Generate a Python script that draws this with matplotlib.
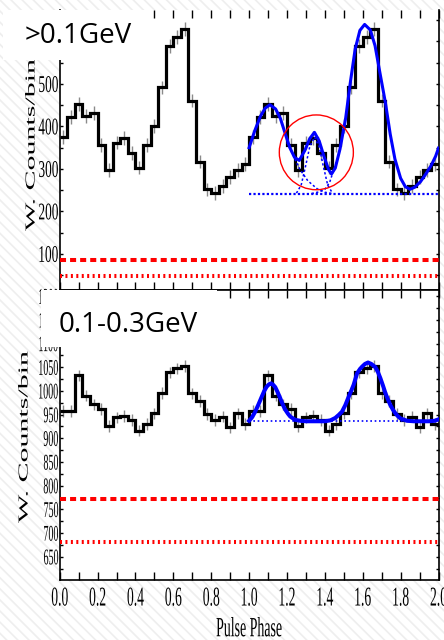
import numpy as np
import matplotlib
matplotlib.use('Agg')
import matplotlib.pyplot as plt
from matplotlib.patches import Rectangle, Ellipse
from matplotlib.patheffects import AbstractPathEffect
from matplotlib.transforms import Affine2D
from matplotlib.ticker import MultipleLocator, FormatStrFormatter

# one rotation of the light curve, 25 bins of 0.04 in phase (plotted twice)
top_cycle = [375, 422, 453, 424, 431, 356, 297, 362, 373, 337, 303, 356, 401,
             492, 589, 611, 629, 461, 317, 252, 243, 260, 281, 298, 312]
low_cycle = [958, 958, 1033, 990, 972, 962, 926, 944, 947, 939, 916, 930, 953,
             996, 1039, 1048, 1053, 995, 979, 951, 939, 946, 923, 953, 930]
top_err = 16
low_err = 12

# fitted profile (>0.1 GeV)
top_fit_x = [1.00, 1.03, 1.06, 1.085, 1.11, 1.14, 1.165, 1.19, 1.215, 1.24, 1.265,
             1.295, 1.32, 1.345, 1.37, 1.395, 1.42, 1.435, 1.455, 1.48, 1.51, 1.535,
             1.56, 1.585, 1.61, 1.64, 1.665, 1.69, 1.72, 1.745, 1.77, 1.80, 1.825,
             1.85, 1.875, 1.905, 1.93, 1.96, 1.985, 2.00]
top_fit_y = [350, 390, 424, 443, 451, 441, 419, 384, 350, 327, 320,
             344, 371, 386, 366, 330, 298, 288, 302, 347, 420, 505,
             582, 626, 640, 627, 590, 528, 455, 382, 323, 278, 258,
             252, 257, 270, 286, 307, 330, 349]
# single components inside the circle
g1_x = [1.20, 1.22, 1.25, 1.27, 1.31, 1.36, 1.40, 1.44]
g1_y = [362, 345, 315, 298, 272, 253, 245, 242]
g2_x = [1.25, 1.275, 1.30, 1.32, 1.345, 1.37, 1.39, 1.415, 1.44]
g2_y = [243, 262, 310, 352, 375, 352, 310, 262, 243]
g3_x = [1.33, 1.37, 1.40, 1.425, 1.445, 1.47]
g3_y = [242, 246, 252, 268, 295, 328]
top_base = 241

# fitted profile (0.1-0.3 GeV)
low_fit_x = [1.00, 1.015, 1.032, 1.05, 1.067, 1.08, 1.093, 1.105, 1.116, 1.127,
             1.138, 1.15, 1.164, 1.177, 1.19, 1.205, 1.217, 1.243, 1.27, 1.30,
             1.40, 1.43, 1.455, 1.475, 1.49, 1.508, 1.526, 1.54, 1.552, 1.57,
             1.585, 1.596, 1.612, 1.628, 1.645, 1.667, 1.68, 1.693, 1.707, 1.72,
             1.733, 1.746, 1.76, 1.772, 1.785, 1.799, 1.834, 1.87, 1.95, 1.98, 2.00]
low_fit_y = [937, 944, 956, 972, 988, 1000, 1009, 1014, 1016, 1013,
             1008, 998, 985, 972, 961, 952, 946, 939, 937, 936,
             936, 938, 943, 950, 956, 970, 988, 1001, 1013, 1037,
             1046, 1051, 1057, 1060, 1057, 1050, 1040, 1027, 1011, 995,
             982, 970, 960, 953, 947, 942, 937, 936, 936, 937, 940]
low_base = 936

# background levels (red lines)
top_bkg = [86, 48]
low_bkg = [772, 682]

top_yticks = [100, 200, 300, 400, 500]


class Tall(AbstractPathEffect):
    # the original figure was stretched vertically -> draw text taller
    def __init__(self, sy):
        super().__init__()
        self.sy = sy

    def draw_path(self, renderer, gc, tpath, affine, rgbFace=None):
        bb = tpath.get_extents(affine)
        cy = 0.5 * (bb.y0 + bb.y1)
        aff = affine + Affine2D().translate(0, -cy).scale(1, self.sy).translate(0, cy)
        renderer.draw_path(gc, tpath, aff, rgbFace)


plt.rcParams['font.family'] = 'serif'
plt.rcParams['font.serif'] = ['Liberation Serif', 'DejaVu Serif']
plt.rcParams['hatch.color'] = '#eeeeee'
plt.rcParams['hatch.linewidth'] = 1.2

W, H = 444., 640.
fig = plt.figure(figsize=(4.44, 6.4), dpi=100)

# slide background
fig.patches.append(Rectangle((0, 0), 1, 1, transform=fig.transFigure, facecolor='white',
                             edgecolor='#eeeeee', hatch='\\\\\\', lw=0, zorder=-5))

x0, x1 = 59.7, 438.5
ax1 = fig.add_axes([x0 / W, 1 - 290 / H, (x1 - x0) / W, 280 / H])
ax2 = fig.add_axes([x0 / W, 60 / H, (x1 - x0) / W, 290 / H])

edges = np.linspace(0, 2, 51)
centers = edges[:-1] + 0.02
top_counts = np.tile(top_cycle, 2)
low_counts = np.tile(low_cycle, 2)

# ---- top panel: >0.1 GeV
ax1.vlines(centers, top_counts - top_err, top_counts + top_err, colors='#8a8a8a', lw=1.0, zorder=1)
ax1.stairs(top_counts, edges, color='k', lw=2.3, baseline=None, zorder=2)
ax1.plot(top_fit_x, top_fit_y, color='blue', lw=2.2, zorder=4)
ax1.plot([1.0, 2.0], [top_base, top_base], color='blue', lw=1.6, dashes=(1, 1), zorder=3)
for gx, gy in [(g1_x, g1_y), (g2_x, g2_y), (g3_x, g3_y)]:
    ax1.plot(gx, gy, color='blue', lw=1.1, dashes=(1.5, 1.5), zorder=3)
ax1.add_patch(Ellipse((1.355, 339), 0.391, 176, fill=False, ec='red', lw=1.0, zorder=5))
ax1.axhline(top_bkg[0], color='red', lw=2.9, dashes=(1.5, 1.0), zorder=3)
ax1.axhline(top_bkg[1], color='red', lw=2.9, dashes=(0.5, 0.85), zorder=3)

ax1.set_xlim(0, 2)
ax1.set_ylim(15, 674)
ax1.xaxis.set_major_locator(MultipleLocator(0.2))
ax1.xaxis.set_minor_locator(MultipleLocator(0.1))
ax1.set_yticks(top_yticks)
ax1.yaxis.set_minor_locator(MultipleLocator(50))
ax1.tick_params(axis='x', which='both', direction='in', top=True, bottom=True,
                labelbottom=False, length=6, width=1.0)
ax1.tick_params(axis='y', which='both', direction='in', left=True, right=True,
                length=2.5, width=1.0, labelsize=9.6, pad=1)
ax1.spines['top'].set_visible(False)
for s in ['left', 'right', 'bottom']:
    ax1.spines[s].set_linewidth(1.2)
ax1.set_ylabel('W. Counts/bin', fontsize=9.8, va='center', ha='center')
ax1.yaxis.set_label_coords((31 - x0) / (x1 - x0), (290 - 145) / 280.)

# ---- bottom panel: 0.1-0.3 GeV
ax2.vlines(centers, low_counts - low_err, low_counts + low_err, colors='#8a8a8a', lw=1.0, zorder=1)
ax2.stairs(low_counts, edges, color='k', lw=2.3, baseline=None, zorder=2)
ax2.plot(low_fit_x, low_fit_y, color='blue', lw=2.9, zorder=4)
ax2.plot([1.0, 2.0], [low_base, low_base], color='blue', lw=1.2, dashes=(1, 1.6), zorder=3)
ax2.axhline(low_bkg[0], color='red', lw=2.9, dashes=(1.5, 1.0), zorder=3)
ax2.axhline(low_bkg[1], color='red', lw=2.9, dashes=(0.5, 0.85), zorder=3)

ax2.set_xlim(0, 2)
ax2.set_ylim(601, 1213)
ax2.xaxis.set_major_locator(MultipleLocator(0.2))
ax2.xaxis.set_minor_locator(MultipleLocator(0.1))
ax2.xaxis.set_major_formatter(FormatStrFormatter('%.1f'))
ax2.yaxis.set_major_locator(MultipleLocator(50))
ax2.yaxis.set_minor_locator(MultipleLocator(25))
ax2.tick_params(axis='x', which='both', direction='in', top=True, bottom=True,
                length=6, width=1.0, labelsize=9.8, pad=8)
ax2.tick_params(axis='y', which='both', direction='in', left=True, right=True,
                length=2.5, width=1.0, labelsize=7.2, pad=1)
for s in ax2.spines.values():
    s.set_linewidth(1.2)
ax2.set_ylabel('W. Counts/bin', fontsize=9.8, va='center', ha='center')
ax2.yaxis.set_label_coords((24 - x0) / (x1 - x0), (580 - 437) / 290.)
ax2.set_xlabel('Pulse Phase', fontsize=10, va='center')
ax2.xaxis.set_label_coords(0.5, (580 - 628) / 290.)

# tall serif text like the stretched original
for t in ax1.yaxis.get_major_ticks():
    t.label1.set_path_effects([Tall(1.8)])
for t in ax2.yaxis.get_major_ticks():
    t.label1.set_path_effects([Tall(2.25)])
for t in ax2.xaxis.get_major_ticks():
    t.label1.set_path_effects([Tall(2.0)])
ax1.yaxis.label.set_path_effects([Tall(2.2)])
ax2.yaxis.label.set_path_effects([Tall(2.2)])
ax2.xaxis.label.set_path_effects([Tall(2.0)])

# energy band labels on white boxes
fig.patches.append(Rectangle((3 / W, 1 - 60 / H), 147 / W, 50 / H, transform=fig.transFigure,
                             facecolor='white', edgecolor='none', zorder=10))
fig.patches.append(Rectangle((41 / W, 1 - 347 / H), 176 / W, 57.5 / H, transform=fig.transFigure,
                             facecolor='white', edgecolor='none', zorder=10))
fig.text(25 / W, 1 - 43 / H, '>0.1GeV', family='Open Sans', fontsize=20, va='baseline', zorder=11)
fig.text(59 / W, 1 - 332 / H, '0.1-0.3GeV', family='Open Sans', fontsize=20, va='baseline', zorder=11)

plt.savefig('out.png', dpi=100)
